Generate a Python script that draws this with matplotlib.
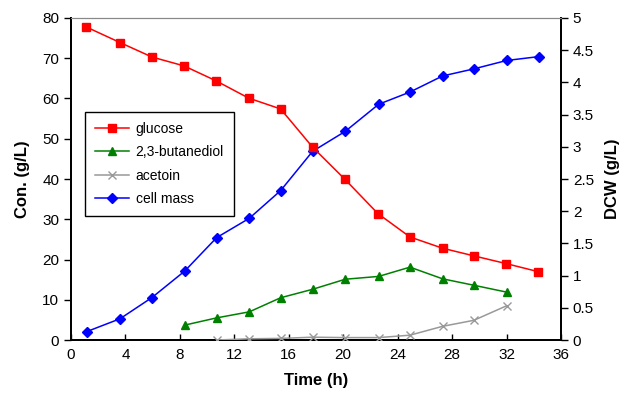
import matplotlib
matplotlib.use("Agg")
import matplotlib.pyplot as plt

plt.rcParams['font.family'] = ['Liberation Sans', 'DejaVu Sans']

t_glucose = [1.1, 3.6, 5.95, 8.3, 10.65, 13.05, 15.4, 17.75, 20.1, 22.55, 24.9, 27.3, 29.6, 31.95, 34.3]
glucose = [77.8, 73.9, 70.3, 68.1, 64.4, 60.1, 57.4, 47.9, 40.0, 31.4, 25.6, 22.8, 20.9, 19.0, 17.0]

t_bdo = [8.35, 10.7, 13.1, 15.4, 17.75, 20.15, 22.6, 24.9, 27.3, 29.6, 32.0]
bdo = [3.7, 5.5, 7.0, 10.5, 12.6, 15.1, 15.8, 18.1, 15.2, 13.6, 11.9]

t_acetoin = [10.7, 13.1, 15.4, 17.75, 20.15, 22.6, 24.9, 27.3, 29.6, 32.0]
acetoin = [0.0, 0.3, 0.4, 0.7, 0.6, 0.6, 1.2, 3.4, 4.9, 8.5]

t_cell = [1.15, 3.6, 5.95, 8.35, 10.7, 13.1, 15.4, 17.75, 20.15, 22.6, 24.9, 27.3, 29.6, 32.0, 34.35]
cell = [0.13, 0.33, 0.66, 1.07, 1.59, 1.89, 2.32, 2.93, 3.24, 3.66, 3.85, 4.10, 4.21, 4.34, 4.40]

x_ticks = [0, 4, 8, 12, 16, 20, 24, 28, 32, 36]
y_ticks = [0, 10, 20, 30, 40, 50, 60, 70, 80]
y2_ticks = [0, 0.5, 1, 1.5, 2, 2.5, 3, 3.5, 4, 4.5, 5]
y2_labels = ['0', '0.5', '1', '1.5', '2', '2.5', '3', '3.5', '4', '4.5', '5']

fig = plt.figure(figsize=(6.23, 3.98), dpi=100)
ax = fig.add_axes([0.114, 0.1457, 0.7865, 0.8091])
ax2 = ax.twinx()

l1, = ax.plot(t_glucose, glucose, color='#ff0000', marker='s', markersize=5.5, lw=1.1, label='glucose', zorder=4)
l2, = ax.plot(t_bdo, bdo, color='#008000', marker='^', markersize=6, lw=1.1, label='2,3-butanediol', zorder=4)
l3, = ax.plot(t_acetoin, acetoin, color='#999999', marker='x', markersize=6, mew=1.0, lw=1.1, label='acetoin', zorder=4)
l4, = ax2.plot(t_cell, cell, color='#0000ff', marker='D', markersize=5, lw=1.1, label='cell mass', zorder=4)

ax.set_xlim(0, 36)
ax.set_ylim(0, 80)
ax2.set_ylim(0, 5)
ax.set_xticks(x_ticks)
ax.set_yticks(y_ticks)
ax2.set_yticks(y2_ticks)
ax2.set_yticklabels(y2_labels)

ax.tick_params(axis='x', direction='in', length=4, labelsize=11, pad=6, width=1)
ax.tick_params(axis='y', direction='out', length=5, labelsize=11, width=1)
ax2.tick_params(axis='y', direction='out', length=5, labelsize=11, width=1)

for a in (ax, ax2):
    a.spines['top'].set_color('#888888')
    a.spines['top'].set_linewidth(0.8)
    for s in ('left', 'right', 'bottom'):
        a.spines[s].set_linewidth(1.3)
        a.spines[s].set_color('black')

ax.set_xlabel('Time (h)', fontsize=12, fontweight='bold', labelpad=8)
ax.set_ylabel('Con. (g/L)', fontsize=12, fontweight='bold', labelpad=9)
ax2.set_ylabel('DCW (g/L)', fontsize=12, fontweight='bold', labelpad=8)

leg = ax.legend(handles=[l1, l2, l3, l4], loc='upper left', bbox_to_anchor=(0.0286, 0.708),
                frameon=True, fancybox=False, edgecolor='black', fontsize=10, framealpha=1,
                handlelength=2.5, handletextpad=0.45, borderpad=0.7, labelspacing=0.68, borderaxespad=0)
leg.get_frame().set_linewidth(1.0)
ax.set_zorder(ax2.get_zorder() + 1)
ax.patch.set_visible(False)

fig.savefig('out.png', dpi=100)
